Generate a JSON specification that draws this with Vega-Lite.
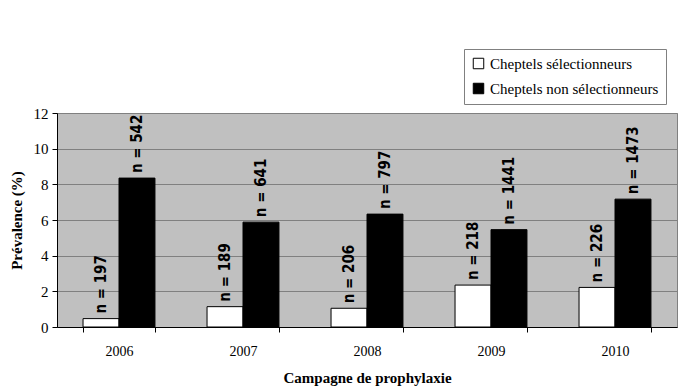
{
  "$schema": "https://vega.github.io/schema/vega-lite/v6.json",
  "width": 620,
  "height": 214,
  "autosize": {"type": "none"},
  "padding": {"left": 57, "top": 113, "right": 2, "bottom": 65},
  "background": "white",
  "config": {
    "view": {"fill": "#c0c0c0", "stroke": "#808080", "strokeWidth": 1},
    "font": "Liberation Serif"
  },
  "data": {
    "values": [
      {"annee": "2006", "groupe": "Cheptels sélectionneurs", "prevalence": 0.47, "label": "n = 197"},
      {"annee": "2006", "groupe": "Cheptels non sélectionneurs", "prevalence": 8.35, "label": "n = 542"},
      {"annee": "2007", "groupe": "Cheptels sélectionneurs", "prevalence": 1.14, "label": "n = 189"},
      {"annee": "2007", "groupe": "Cheptels non sélectionneurs", "prevalence": 5.88, "label": "n = 641"},
      {"annee": "2008", "groupe": "Cheptels sélectionneurs", "prevalence": 1.05, "label": "n = 206"},
      {"annee": "2008", "groupe": "Cheptels non sélectionneurs", "prevalence": 6.33, "label": "n = 797"},
      {"annee": "2009", "groupe": "Cheptels sélectionneurs", "prevalence": 2.35, "label": "n = 218"},
      {"annee": "2009", "groupe": "Cheptels non sélectionneurs", "prevalence": 5.46, "label": "n = 1441"},
      {"annee": "2010", "groupe": "Cheptels sélectionneurs", "prevalence": 2.22, "label": "n = 226"},
      {"annee": "2010", "groupe": "Cheptels non sélectionneurs", "prevalence": 7.17, "label": "n = 1473"}
    ]
  },
  "encoding": {
    "x": {
      "field": "annee", "type": "nominal", "sort": "ascending",
      "scale": {"paddingInner": 0.42, "paddingOuter": 0.21},
      "axis": {
        "title": "Campagne de prophylaxie",
        "titleFont": "Liberation Serif", "titleFontSize": 15, "titleFontWeight": "bold", "titleColor": "black",
        "titlePadding": 12,
        "labelAngle": 0, "labelFont": "Liberation Serif", "labelFontSize": 14, "labelColor": "black",
        "labelPadding": 12,
        "tickBand": "extent", "tickSize": 5, "tickColor": "black", "domainColor": "black",
        "grid": false
      }
    },
    "xOffset": {
      "field": "groupe", "type": "nominal",
      "sort": ["Cheptels sélectionneurs", "Cheptels non sélectionneurs"],
      "scale": {"paddingInner": 0, "paddingOuter": 0}
    },
    "y": {
      "field": "prevalence", "type": "quantitative",
      "scale": {"domain": [0, 12], "nice": false},
      "axis": {
        "title": "Prévalence (%)", "values": [0, 2, 4, 6, 8, 10, 12], "labelOverlap": false,
        "titleFont": "Liberation Serif", "titleFontSize": 15, "titleFontWeight": "bold", "titleColor": "black",
        "titlePadding": 9,
        "labelFont": "Liberation Serif", "labelFontSize": 15, "labelColor": "black", "labelPadding": 4,
        "tickSize": 5, "tickColor": "black", "domainColor": "black",
        "grid": true, "gridColor": "#808080", "gridWidth": 1
      }
    }
  },
  "layer": [
    {
      "mark": {"type": "bar", "stroke": "black", "strokeWidth": 1},
      "encoding": {
        "fill": {
          "field": "groupe", "type": "nominal",
          "scale": {"domain": ["Cheptels sélectionneurs", "Cheptels non sélectionneurs"], "range": ["white", "black"]},
          "legend": {
            "title": null, "orient": "none", "legendX": 407, "legendY": -64,
            "symbolType": "square", "symbolSize": 110, "symbolStrokeColor": "black", "symbolStrokeWidth": 1,
            "labelFont": "Liberation Serif", "labelFontSize": 15, "labelColor": "black",
            "rowPadding": 9, "padding": 7, "strokeColor": "#808080", "fillColor": "white",
            "labelLimit": 300
          }
        }
      }
    },
    {
      "mark": {
        "type": "text", "angle": 270, "align": "left", "baseline": "middle", "dx": 5,
        "font": "DejaVu Sans Condensed", "fontWeight": "bold", "fontSize": 15, "color": "black"
      },
      "encoding": {
        "text": {"field": "label", "type": "nominal"}
      }
    }
  ]
}
